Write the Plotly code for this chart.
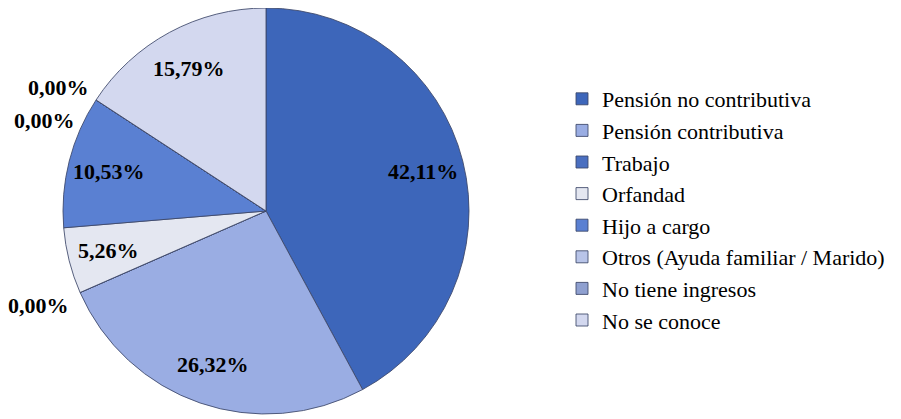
import math
import plotly.graph_objects as go

categories = ["Pensión no contributiva", "Pensión contributiva", "Trabajo", "Orfandad",
              "Hijo a cargo", "Otros (Ayuda familiar / Marido)", "No tiene ingresos", "No se conoce"]
percentages = [42.11, 26.32, 0.00, 5.26, 10.53, 0.00, 0.00, 15.79]
colors = ["#3D66BA", "#9AADE3", "#4A6FC0", "#E4E7F1", "#5A80D2", "#B8C4E8", "#8FA0D0", "#D3D8EF"]

FONT = "Times New Roman, Liberation Serif, DejaVu Serif, serif"

def fmt(v):
    return f"{v:.2f}".replace(".", ",") + "%"

# Figure size (page body has an 8px margin in the browser)
W, H = 893, 411
OFF = 8
# pie centre / radius in screen px
CX, CY, R = 266, 211, 203

def to_paper(sx, sy):
    return (sx - OFF) / W, 1 - (sy - OFF) / H

dx0, dy1 = to_paper(CX - R, CY - R)
dx1, dy0 = to_paper(CX + R, CY + R)

fig = go.Figure(go.Pie(
    labels=categories,
    values=percentages,
    textinfo="none",
    sort=False,
    direction="clockwise",
    rotation=0,
    marker=dict(colors=colors, line=dict(color="rgba(60,70,105,0.85)", width=1)),
    domain=dict(x=[dx0, dx1], y=[max(dy0, 0), min(dy1, 1)]),
    hoverinfo="label+percent",
))

def label(sx, sy, txt):
    x, y = to_paper(sx, sy)
    fig.add_annotation(x=x, y=y, xref="paper", yref="paper", text="<b>" + txt + "</b>",
                       xanchor="center", yanchor="middle", showarrow=False,
                       font=dict(family=FONT, size=22, color="black"))

# data labels for non-zero slices, placed on the bisector of each slice
total = sum(percentages)
cum = 0.0
for name, v in zip(categories, percentages):
    mid = (cum + v / 2) / total * 2 * math.pi
    cum += v
    if v <= 0:
        continue
    label(CX + 0.8 * R * math.sin(mid), CY - 0.8 * R * math.cos(mid), fmt(v))

# outside labels for the zero-value slices (screen px positions)
zero_label_pos = {"Trabajo": (38, 305), "Otros (Ayuda familiar / Marido)": (44, 120),
                  "No tiene ingresos": (58, 87)}
for name, (sx, sy) in zero_label_pos.items():
    label(sx, sy, fmt(percentages[categories.index(name)]))

lx, ly = to_paper(562, 78)
fig.update_layout(
    width=W, height=H,
    margin=dict(l=0, r=0, t=0, b=0),
    paper_bgcolor="white", plot_bgcolor="white",
    font=dict(family=FONT, color="black"),
    legend=dict(x=lx, y=ly, xanchor="left", yanchor="top",
                font=dict(family=FONT, size=22, color="black"),
                bgcolor="rgba(0,0,0,0)", itemclick=False),
)

fig.write_html("out.html")
